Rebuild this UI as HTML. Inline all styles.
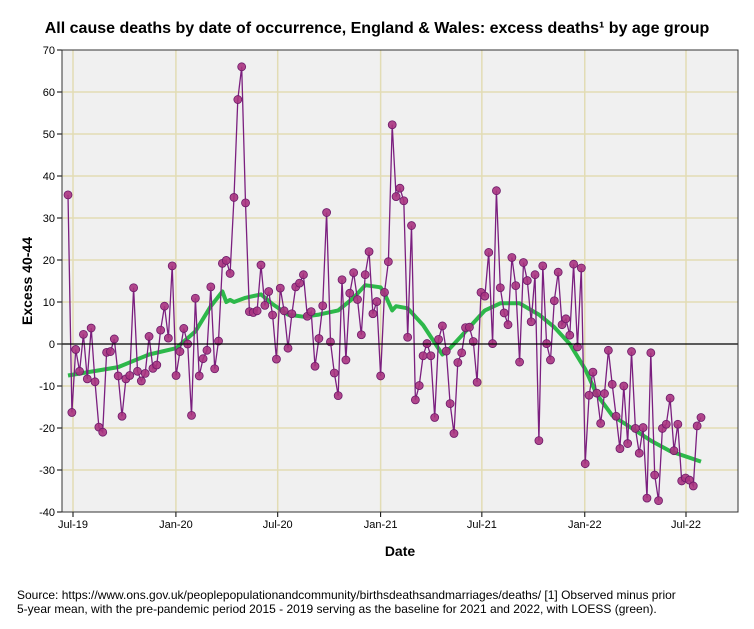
<!DOCTYPE html>
<html><head><meta charset="utf-8"><style>
body{margin:0;background:#fff;font-family:"Liberation Sans",sans-serif;}
svg text{font-family:"Liberation Sans",sans-serif;}
</style></head><body>
<svg id="chart" width="754" height="624" xmlns="http://www.w3.org/2000/svg">
<rect width="754" height="624" fill="#fff"/>
<text x="377" y="33" text-anchor="middle" font-size="16" font-weight="bold">All cause deaths by date of occurrence, England &amp; Wales: excess deaths¹ by age group</text>
<rect x="62" y="50" width="676" height="462" fill="#f0f0f0"/>
<g id="grid"></g><g id="loess"></g><g id="series"></g><g id="axes"></g>
<text transform="translate(32,281) rotate(-90)" text-anchor="middle" font-size="14" font-weight="bold">Excess 40-44</text>
<text x="400" y="556" text-anchor="middle" font-size="14" font-weight="bold">Date</text>
<text x="17" y="599" font-size="12">Source: https://www.ons.gov.uk/peoplepopulationandcommunity/birthsdeathsandmarriages/deaths/  [1] Observed minus prior</text>
<text x="17" y="613" font-size="12">5-year mean, with the pre-pandemic period 2015 - 2019 serving as the baseline for 2021 and 2022, with LOESS (green).</text>
</svg>
<script>
const values=[35.5,-16.3,-1.3,-6.5,2.3,-8.3,3.8,-9,-19.8,-21,
-2,-1.8,1.2,-7.6,-17.2,-8.3,-7.5,13.4,-6.5,-8.8,
-7,1.8,-5.8,-5,3.3,9,1.4,18.6,-7.5,-1.8,
3.7,0,-17,10.9,-7.6,-3.5,-1.5,13.6,-5.9,0.7,
19.2,19.9,16.8,34.9,58.2,66,33.6,7.7,7.5,7.9,
18.8,9.2,12.5,6.9,-3.6,13.3,7.9,-1,7.2,13.6,
14.5,16.5,6.6,7.7,-5.3,1.3,9.1,31.3,0.5,-6.9,
-12.3,15.3,-3.8,12.1,17,10.6,2.2,16.5,22,7.2,
10.1,-7.6,12.3,19.6,52.2,35.1,37.1,34.1,1.6,28.2,
-13.3,-9.9,-2.8,0.1,-2.8,-17.5,1.1,4.3,-1.7,-14.2,
-21.3,-4.4,-2.1,3.9,4,0.6,-9.1,12.3,11.4,21.8,
0.1,36.5,13.4,7.4,4.6,20.6,13.9,-4.3,19.4,15.1,
5.3,16.5,-23,18.6,0.1,-3.8,10.3,17.1,4.6,6,
2.1,19,-0.7,18.1,-28.5,-12.2,-6.7,-11.7,-18.9,-11.8,
-1.5,-9.6,-17.2,-24.9,-10,-23.7,-1.8,-20.1,-26,-19.9,
-36.7,-2.1,-31.2,-37.3,-20.1,-19.1,-12.9,-25.4,-19.1,-32.6,
-31.9,-32.4,-33.8,-19.5,-17.5];
const loessWeeks=[0,13,21,28,33,37,40,41,42,43,46,50,53,57,61,65,70,74,77,81,82,84,85,88,92,97,99,103,108,112,117,122,126,130,134,137,141,146,151,156,164];
const loessValues=[-7.5,-5.5,-2.5,-1,3,9,12.5,10,10.5,10,11,11.8,9.5,7,6.5,7,8,11,14,13.5,12,8,9,8.5,4.5,-2.5,-1,3,8,9.7,9.7,7,4,0,-6,-12,-17,-20,-23,-25.5,-28];
const yTicks=[70,60,50,40,30,20,10,0,-10,-20,-30,-40];
const xTickLabels=["Jul-19","Jan-20","Jul-20","Jan-21","Jul-21","Jan-22","Jul-22"];
const xTickDates=["2019-07-01","2020-01-01","2020-07-01","2021-01-01","2021-07-01","2022-01-01","2022-07-01"];

const NS="http://www.w3.org/2000/svg";
const L=62,R=738,T=50,B=512;
const day=86400000, tJul19=Date.parse("2019-07-01"), tJul22=Date.parse("2022-07-01");
const pxDay=(686-73)/((tJul22-tJul19)/day);
function xDate(ms){return 73+((ms-tJul19)/day)*pxDay;}
const N=values.length;
function xWeek(i){return 68+i*(701-68)/(N-1);}
function y(v){return 344-v*4.2;}
function el(tag,attrs,parent){const e=document.createElementNS(NS,tag);for(const k in attrs)e.setAttribute(k,attrs[k]);parent.appendChild(e);return e;}
const grid=document.getElementById('grid'),axes=document.getElementById('axes');
yTicks.forEach(v=>{
  if(v!==0&&v!==70&&v!==-40){const g=el('line',{x1:L,x2:R,y1:y(v),y2:y(v),stroke:'#e2dcb4','stroke-width':1.5},grid);
  
  }
  const tk=el('line',{x1:L-5,x2:L,y1:y(v),y2:y(v),stroke:'#000'},axes);
  
  
  const t=el('text',{x:L-7,y:y(v)+4,'text-anchor':'end','font-size':11},axes);
  
  
  t.textContent=v;
});
xTickDates.forEach((d,i)=>{
  const x=xDate(Date.parse(d));
  const g=el('line',{x1:x,x2:x,y1:T,y2:B,stroke:'#e2dcb4','stroke-width':1.5},grid);
  
  
  const tk=el('line',{x1:x,x2:x,y1:B,y2:B+5,stroke:'#000'},axes);
  
  
  const t=el('text',{x:x,y:B+16,'text-anchor':'middle','font-size':11},axes);
  
  
  t.textContent=xTickLabels[i];
});
const zl=el('line',{x1:L,x2:R,y1:y(0),y2:y(0),stroke:'#000','stroke-width':1.2},axes);


const fr=el('rect',{x:L,y:T,width:R-L,height:B-T,fill:'none',stroke:'#333','stroke-width':1},axes);


const lo=el('polyline',{points:loessWeeks.map((w,i)=>xWeek(w).toFixed(1)+','+y(loessValues[i]).toFixed(1)).join(' '),fill:'none',stroke:'#2db84a','stroke-width':4,'stroke-linejoin':'round'},document.getElementById('loess'));


const s=document.getElementById('series');
const pl=el('polyline',{points:values.map((v,i)=>xWeek(i).toFixed(1)+','+y(v).toFixed(1)).join(' '),fill:'none',stroke:'#7b1f7f','stroke-width':1.3},s);


values.forEach((v,i)=>{
  const c=el('circle',{cx:xWeek(i),cy:y(v),r:4,fill:'#a8337f',stroke:'#6d1a6a','stroke-width':0.8,'fill-opacity':0.9},s);
  
  
});
</script>
</body></html>
